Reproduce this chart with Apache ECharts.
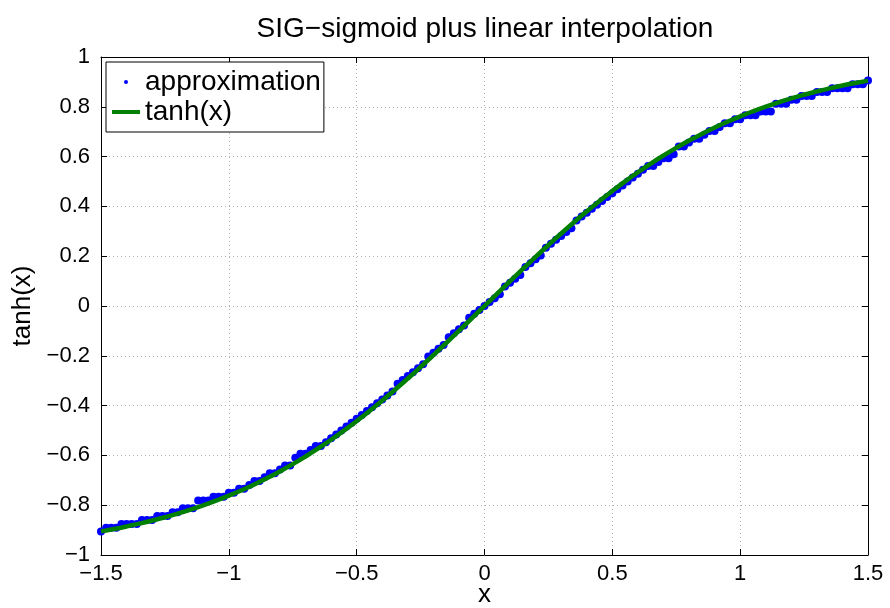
<!DOCTYPE html>
<html><head><meta charset="utf-8">
<script src="https://cdn.jsdelivr.net/npm/echarts@6/dist/echarts.min.js"></script>
<style>html,body{margin:0;padding:0;background:#fff}#c{width:890px;height:608px}</style>
</head><body><div id="c"></div>
<script>
const titleText = 'SIG\u2212sigmoid plus linear interpolation';
const xLabel = 'x';
const yLabel = 'tanh(x)';
const seriesNames = ['approximation', 'tanh(x)'];

const tanhX = [-1.5,-1.45,-1.4,-1.35,-1.3,-1.25,-1.2,-1.15,-1.1,-1.05,-1.0,-0.95,-0.9,-0.85,-0.8,-0.75,-0.7,-0.65,-0.6,-0.55,-0.5,-0.45,-0.4,-0.35,-0.3,-0.25,-0.2,-0.15,-0.1,-0.05,0,
0.05,0.1,0.15,0.2,0.25,0.3,0.35,0.4,0.45,0.5,0.55,0.6,0.65,0.7,0.75,0.8,0.85,0.9,0.95,1.0,1.05,1.1,1.15,1.2,1.25,1.3,1.35,1.4,1.45,1.5];
const tanhY = [-0.9052,-0.8957,-0.8854,-0.8741,-0.8617,-0.8483,-0.8337,-0.8178,-0.8005,-0.7818,-0.7616,-0.7398,-0.7163,-0.6911,-0.6640,-0.6352,-0.6044,-0.5717,-0.5371,-0.5005,-0.4621,-0.4219,-0.3799,-0.3364,-0.2913,-0.2449,-0.1974,-0.1489,-0.0997,-0.0500,0,
0.0500,0.0997,0.1489,0.1974,0.2449,0.2913,0.3364,0.3799,0.4219,0.4621,0.5005,0.5371,0.5717,0.6044,0.6352,0.6640,0.6911,0.7163,0.7398,0.7616,0.7818,0.8005,0.8178,0.8337,0.8483,0.8617,0.8741,0.8854,0.8957,0.9052];

const approxX = [-1.5,-1.48,-1.46,-1.44,-1.42,-1.4,-1.38,-1.36,-1.34,-1.32,-1.3,-1.28,-1.26,-1.24,-1.22,-1.2,-1.18,-1.16,-1.14,-1.12,-1.1,-1.08,-1.06,-1.04,-1.02,-1.0,-0.98,-0.96,-0.94,-0.92,-0.9,-0.88,-0.86,-0.84,-0.82,-0.8,-0.78,-0.76,-0.74,-0.72,-0.7,-0.68,-0.66,-0.64,-0.62,-0.6,-0.58,-0.56,-0.54,-0.52,-0.5,-0.48,-0.46,-0.44,-0.42,-0.4,-0.38,-0.36,-0.34,-0.32,-0.3,-0.28,-0.26,-0.24,-0.22,-0.2,-0.18,-0.16,-0.14,-0.12,-0.1,-0.08,-0.06,-0.04,-0.02,
0,0.02,0.04,0.06,0.08,0.1,0.12,0.14,0.16,0.18,0.2,0.22,0.24,0.26,0.28,0.3,0.32,0.34,0.36,0.38,0.4,0.42,0.44,0.46,0.48,0.5,0.52,0.54,0.56,0.58,0.6,0.62,0.64,0.66,0.68,0.7,0.72,0.74,0.76,0.78,0.8,0.82,0.84,0.86,0.88,0.9,0.92,0.94,0.96,0.98,1.0,1.02,1.04,1.06,1.08,1.1,1.12,1.14,1.16,1.18,1.2,1.22,1.24,1.26,1.28,1.3,1.32,1.34,1.36,1.38,1.4,1.42,1.44,1.46,1.48,1.5];
const approxY = [-0.9052,-0.8906,-0.8906,-0.8906,-0.875,-0.875,-0.875,-0.875,-0.8594,-0.8594,-0.8594,-0.8438,-0.8438,-0.8438,-0.8281,-0.8281,-0.8125,-0.8125,-0.8125,-0.7813,-0.7813,-0.7813,-0.7656,-0.7656,-0.7656,-0.75,-0.75,-0.7344,-0.7344,-0.7188,-0.7031,-0.7031,-0.6875,-0.6719,-0.6719,-0.6563,-0.6406,-0.6406,-0.6094,-0.5938,-0.5938,-0.5781,-0.5625,-0.5625,-0.5469,-0.5313,-0.5156,-0.5,-0.4844,-0.4688,-0.4531,-0.4375,-0.4219,-0.4063,-0.3906,-0.375,-0.3594,-0.3438,-0.3125,-0.2969,-0.2813,-0.2656,-0.25,-0.2344,-0.2031,-0.1875,-0.1719,-0.1563,-0.125,-0.1094,-0.0938,-0.0781,-0.0469,-0.0313,-0.0156,
0,0.0156,0.0313,0.0469,0.0781,0.0938,0.1094,0.125,0.1563,0.1719,0.1875,0.2031,0.2344,0.25,0.2656,0.2813,0.2969,0.3125,0.3438,0.3594,0.375,0.3906,0.4063,0.4219,0.4375,0.4531,0.4688,0.4844,0.5,0.5156,0.5313,0.5469,0.5625,0.5625,0.5781,0.5938,0.5938,0.6094,0.6406,0.6406,0.6563,0.6719,0.6719,0.6875,0.7031,0.7031,0.7188,0.7344,0.7344,0.75,0.75,0.7656,0.7656,0.7656,0.7813,0.7813,0.7813,0.8125,0.8125,0.8125,0.8281,0.8281,0.8438,0.8438,0.8438,0.8594,0.8594,0.8594,0.875,0.875,0.875,0.875,0.8906,0.8906,0.8906,0.9052];

const FONT = 'Liberation Sans, Arial, Helvetica, sans-serif';
const fmt = v => String(Math.round(v * 10) / 10).replace('-', '\u2212');

const chart = echarts.init(document.getElementById('c'), null, {renderer: 'canvas'});
const tickStyle = {show: true, inside: true, length: 6, lineStyle: {color: '#000', width: 1}};
const gridLine = {show: true, lineStyle: {color: '#b0b0b0', type: [1, 3], width: 1}};
chart.setOption({
  animation: false,
  backgroundColor: '#fff',
  textStyle: {fontFamily: FONT},
  graphic: [{
    type: 'text', x: 485, y: 15,
    style: {text: titleText, textAlign: 'center', fontSize: 28, fontFamily: FONT, fill: '#000'}
  }],
  grid: {left: 101, right: 22, top: 57, bottom: 53, show: false, containLabel: false, outerBoundsMode: 'none'},
  legend: {
    orient: 'vertical', left: 106, top: 62,
    padding: [5, 3, 5, 6], itemGap: 0,
    itemWidth: 28, itemHeight: 4,
    backgroundColor: '#fff', borderColor: '#000', borderWidth: 1,
    textStyle: {fontSize: 28, color: '#000', fontFamily: FONT, lineHeight: 30},
    data: [{name: seriesNames[0], icon: 'circle'}, {name: seriesNames[1], icon: 'rect'}]
  },
  xAxis: [{
    type: 'value', min: -1.5, max: 1.5, interval: 0.5,
    name: xLabel, nameLocation: 'middle', nameGap: 27, nameMoveOverlap: false,
    nameTextStyle: {fontSize: 26, color: '#000', fontFamily: FONT, verticalAlign: 'top', lineHeight: 26},
    axisLine: {show: true, onZero: false, lineStyle: {color: '#000', width: 1}},
    axisTick: tickStyle,
    axisLabel: {fontSize: 22, color: '#000', margin: 8, formatter: fmt, fontFamily: FONT},
    splitLine: gridLine
  }, {
    type: 'value', min: -1.5, max: 1.5, interval: 0.5, position: 'top',
    axisLine: {show: true, onZero: false, lineStyle: {color: '#000', width: 1}},
    axisTick: tickStyle, axisLabel: {show: false}, splitLine: {show: false}
  }],
  yAxis: [{
    type: 'value', min: -1, max: 1, interval: 0.2,
    name: yLabel, nameLocation: 'middle', nameGap: 65, nameMoveOverlap: false,
    nameTextStyle: {fontSize: 26, color: '#000', fontFamily: FONT},
    axisLine: {show: true, onZero: false, lineStyle: {color: '#000', width: 1}},
    axisTick: tickStyle,
    axisLabel: {fontSize: 22, color: '#000', margin: 11, formatter: fmt, fontFamily: FONT},
    splitLine: gridLine
  }, {
    type: 'value', min: -1, max: 1, interval: 0.2, position: 'right',
    axisLine: {show: true, onZero: false, lineStyle: {color: '#000', width: 1}},
    axisTick: tickStyle, axisLabel: {show: false}, splitLine: {show: false}
  }],
  series: [{
    name: seriesNames[0], type: 'scatter',
    symbol: 'circle', symbolSize: 8,
    itemStyle: {color: '#0000ff', opacity: 1},
    data: approxX.map((x, i) => [x, approxY[i]]),
    z: 2
  }, {
    name: seriesNames[1], type: 'line',
    showSymbol: false, smooth: true,
    lineStyle: {color: '#008000', width: 4.5},
    itemStyle: {color: '#008000'},
    data: tanhX.map((x, i) => [x, tanhY[i]]),
    z: 3
  }]
});
</script></body></html>
